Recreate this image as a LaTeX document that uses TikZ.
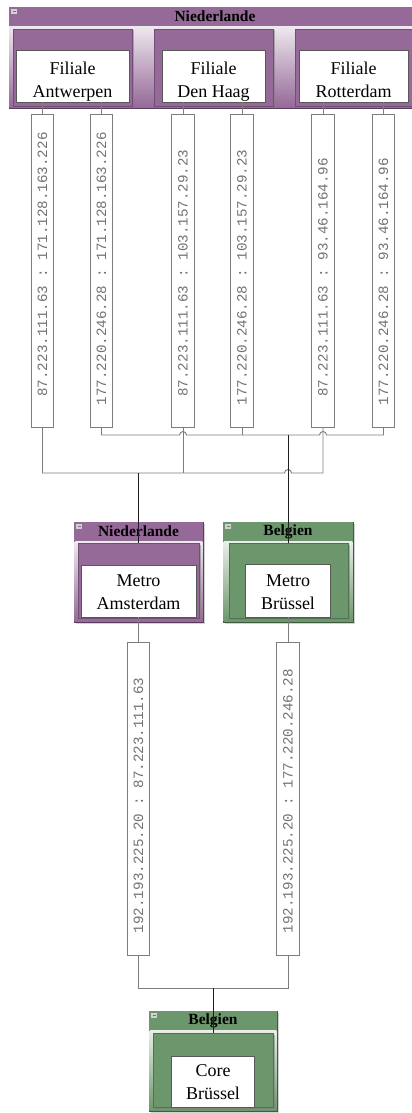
\documentclass[tikz,border=0pt]{standalone}
\usepackage{fontspec}
\usepackage{graphicx}
\setmainfont{Liberation Serif}
\setmonofont{Liberation Mono}
\usetikzlibrary{calc,shadows}

\definecolor{nlpurple}{RGB}{149,105,152}
\definecolor{begreen}{RGB}{108,150,108}
\definecolor{wiregray}{RGB}{125,125,125}
\definecolor{iptext}{RGB}{115,115,115}
\definecolor{trunkcol}{RGB}{30,30,30}

% rotated "a : b" label, colon kept at the middle of the box
\newcommand{\iplabel}[2]{\rotatebox{90}{\vphantom{0}\hspace*{-5pt}\makebox[0pt][r]{#1~}:\makebox[0pt][l]{~#2}}}

% organisational unit: name, colour, left, top, right, bottom, title
\newcommand{\orgunit}[7]{%
  \node[unitframe=#2, minimum width=#5-#3, minimum height=#6-#4] (#1) at ({(#3+#5)/2},{(#4+#6)/2}) {};
  \shade[top color=#2!15!white, middle color=#2!55!white, bottom color=#2] (#3+0.6,#4+19) rectangle (#5-0.6,#6-0.6);
  \fill[#2] (#3+0.4,#4+0.4) rectangle (#5-0.4,#4+19);
  \node[unittitle] (#1title) at ({(#3+#5)/2},#4+9.5) {#7};
  \fill[black!18] (#3+2,#4+2) rectangle (#3+8,#4+7);
  \draw[black!55, line width=0.5pt] (#3+3.5,#4+4.5) -- (#3+6.5,#4+4.5);
}
% inner coloured panel of a unit: name, colour, left, top, right, bottom
\newcommand{\subunit}[6]{%
  \node[subframe=#2, minimum width=#5-#3, minimum height=#6-#4] (#1) at ({(#3+#5)/2},{(#4+#6)/2}) {};
}

\begin{document}
\begin{tikzpicture}[x=1pt,y=-1pt,
  unitframe/.style={draw=#1!60!black, fill=#1, line width=0.7pt, inner sep=0pt, outer sep=0pt,
    drop shadow={opacity=0.35, shadow xshift=1.5pt, shadow yshift=-1.5pt}},
  subframe/.style={draw=#1!75!black, fill=#1, line width=0.5pt, inner sep=0pt, outer sep=0pt,
    drop shadow={opacity=0.55, shadow xshift=1.5pt, shadow yshift=-1.5pt}},
  unittitle/.style={font=\bfseries\fontsize{15.5}{15.5}\selectfont, inner sep=0pt},
  whitebox/.style={draw=black!65, fill=white, line width=0.7pt, inner sep=0pt, outer sep=0pt},
  boxtext/.style={anchor=north, align=center, inner sep=0pt, font=\fontsize{18}{23}\selectfont},
  ipbox/.style={draw=wiregray, fill=white, line width=0.8pt, inner sep=0pt, outer sep=0pt,
    minimum width=22.5, minimum height=313, text=iptext, font=\ttfamily\fontsize{14.2}{14.2}\selectfont},
  wire/.style={draw=wiregray, line width=0.9pt},
  trunk/.style={draw=trunkcol, line width=1pt}
]
\useasboundingbox (0,0) rectangle (412,1113);
\fill[white] (0,0) rectangle (412,1113);

\begin{scope}
\clip (0,0) rectangle (412,1113);

% ---- Niederlande: branch offices ----
\orgunit{nl}{nlpurple}{9}{7}{421}{108}{Niederlande}
\subunit{san}{nlpurple}{13}{29}{132}{106}
\subunit{sdh}{nlpurple}{154}{29}{273}{106}
\subunit{srt}{nlpurple}{295}{29}{414}{106}
\node[whitebox, minimum width=113, minimum height=52] (wan) at (72.5,76) {};
\node[boxtext] (tan) at (72.5,62.3) {Filiale\\Antwerpen};
\node[whitebox, minimum width=103, minimum height=52] (wdh) at (213.5,76) {};
\node[boxtext] (tdh) at (213.5,62.3) {Filiale\\Den Haag};
\node[whitebox, minimum width=109, minimum height=52] (wrt) at (353.5,76) {};
\node[boxtext] (trt) at (353.5,62.3) {Filiale\\Rotterdam};

% ---- metro nodes ----
\orgunit{am}{nlpurple}{74}{522}{203}{622}{Niederlande}
\subunit{sam}{nlpurple}{78}{543}{199}{618}
\node[whitebox, minimum width=115, minimum height=52] (wam) at (138.5,591) {};
\node[boxtext] (tam) at (138.5,574.5) {Metro\\Amsterdam};

\orgunit{br}{begreen}{223}{522}{353}{622}{Belgien}
\subunit{sbr}{begreen}{229}{543}{348}{618}
\node[whitebox, minimum width=85, minimum height=53] (wbr) at (288,590.5) {};
\node[boxtext] (tbr) at (288,574.5) {Metro\\Brüssel};

% ---- core node ----
\orgunit{co}{begreen}{149}{1011}{277}{1111}{Belgien}
\subunit{sco}{begreen}{153}{1033}{273}{1107}
\node[whitebox, minimum width=83, minimum height=51] (wco) at (213,1081.5) {};
\node[boxtext] (tco) at (213,1064.5) {Core\\Brüssel};

% ---- link labels ----
\node[ipbox] (l1) at (42.5,270.5)  {\iplabel{87.223.111.63}{171.128.163.226}};
\node[ipbox] (l2) at (101.5,270.5) {\iplabel{177.220.246.28}{171.128.163.226}};
\node[ipbox] (l3) at (183,270.5)   {\iplabel{87.223.111.63}{103.157.29.23}};
\node[ipbox] (l4) at (242,270.5)   {\iplabel{177.220.246.28}{103.157.29.23}};
\node[ipbox] (l5) at (323,270.5)   {\iplabel{87.223.111.63}{93.46.164.96}};
\node[ipbox] (l6) at (383.5,270.5) {\iplabel{177.220.246.28}{93.46.164.96}};
\node[ipbox] (l7) at (138.5,798.5) {\iplabel{192.193.225.20}{87.223.111.63}};
\node[ipbox] (l8) at (288,798.5)   {\iplabel{192.193.225.20}{177.220.246.28}};

% bus levels
\coordinate (busB) at (0,435);
\coordinate (busA) at (0,473);
\coordinate (busC) at (0,988);

% stubs from the offices to their links
\foreach \l/\w in {l1/wan,l2/wan,l3/wdh,l4/wdh,l5/wrt,l6/wrt}
  \draw[wire] (\l.north |- \w.south) -- (\l.north);
\draw[wire] (wam.south) -- (l7.north);
\draw[wire] (wbr.south) -- (l8.north);

% bus towards Metro Brüssel, hopping over the other verticals
\draw[wire] (l2.south) -- (l2.south |- busB)
  -- ($(l3.south |- busB)+(-3.5,0)$) arc[start angle=180, end angle=0, radius=3.5pt]
  -- ($(l5.south |- busB)+(-3.5,0)$) arc[start angle=180, end angle=0, radius=3.5pt]
  -- (l6.south |- busB) -- (l6.south);
\draw[wire] (l4.south) -- (l4.south |- busB);
\draw[wire] (l3.south) -- (l3.south |- busA);

% bus towards Metro Amsterdam
\draw[wire] (l1.south) -- (l1.south |- busA)
  -- ($(wbr.north |- busA)+(-3.5,0)$) arc[start angle=180, end angle=0, radius=3.5pt]
  -- (l5.south |- busA) -- (l5.south);

% bus towards the core
\draw[wire] (l7.south) -- (l7.south |- busC) -- (l8.south |- busC) -- (l8.south);

% trunks into the units
\draw[trunk] (wam.north |- busA) -- (wam.north |- sam.north);
\draw[trunk] (wbr.north |- busB) -- (wbr.north |- sbr.north);
\draw[trunk] (wco.north |- busC) -- (wco.north |- sco.north);
\end{scope}
\end{tikzpicture}
\end{document}
